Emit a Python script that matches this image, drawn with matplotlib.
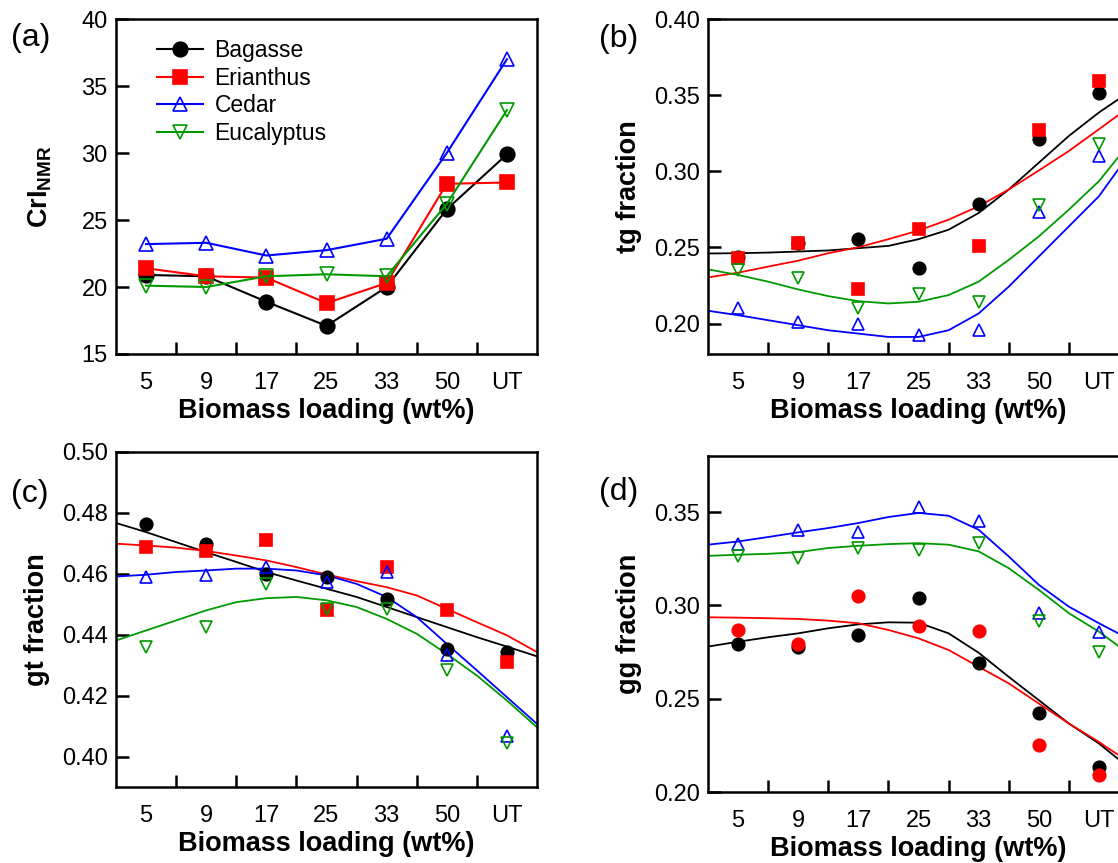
import numpy as np
import matplotlib
matplotlib.use('Agg')
import matplotlib.pyplot as plt

plt.rcParams['font.family'] = ['Liberation Sans', 'DejaVu Sans']
plt.rcParams['mathtext.fontset'] = 'custom'
plt.rcParams['mathtext.rm'] = 'Liberation Sans'
plt.rcParams['mathtext.bf'] = 'Liberation Sans:bold'

# x categories (biomass loading)
loading = ['5', '9', '17', '25', '33', '50', 'UT']
names = ['Bagasse', 'Erianthus', 'Cedar', 'Eucalyptus']

# (a) CrI_NMR
cri_bagasse = [20.9, 20.8, 18.9, 17.1, 20.0, 25.8, 29.9]
cri_erianthus = [21.4, 20.8, 20.7, 18.8, 20.3, 27.7, 27.8]
cri_cedar = [23.2, 23.3, 22.35, 22.75, 23.6, 30.0, 37.0]
cri_eucalyptus = [20.1, 20.0, 20.8, 20.95, 20.8, 26.2, 33.2]

# (b) tg fraction
tg_bagasse = [0.244, 0.253, 0.2554, 0.2367, 0.2787, 0.3214, 0.3517]
tg_erianthus = [0.2429, 0.2528, 0.2224, 0.262, 0.2506, 0.3269, 0.3594]
tg_cedar = [0.2099, 0.201, 0.200, 0.1923, 0.196, 0.2732, 0.310]
tg_eucalyptus = [0.2352, 0.2297, 0.2099, 0.2194, 0.2143, 0.2776, 0.3177]

# (c) gt fraction
gt_bagasse = [0.4765, 0.4699, 0.4598, 0.4589, 0.4518, 0.4354, 0.4343]
gt_erianthus = [0.4688, 0.4675, 0.471, 0.4482, 0.4624, 0.448, 0.431]
gt_cedar = [0.4589, 0.4595, 0.4622, 0.4573, 0.4606, 0.4332, 0.4069]
gt_eucalyptus = [0.4359, 0.4425, 0.4565, 0.4485, 0.4483, 0.4283, 0.4044]

# (d) gg fraction
gg_bagasse = [0.2791, 0.2775, 0.2841, 0.3038, 0.2689, 0.2424, 0.2134]
gg_erianthus = [0.2868, 0.2793, 0.3052, 0.289, 0.2863, 0.2254, 0.2093]
gg_cedar = [0.3328, 0.3405, 0.3391, 0.3527, 0.345, 0.2958, 0.2859]
gg_eucalyptus = [0.3262, 0.3253, 0.3307, 0.3294, 0.3333, 0.2918, 0.2752]

fit_x = [-0.5, 0, 0.5, 1, 1.5, 2, 2.5, 3, 3.5, 4, 4.5, 5, 5.5, 6, 6.5]

tg_fit_bagasse = [0.2460, 0.2462, 0.2466, 0.2473, 0.2480, 0.2495, 0.2510, 0.2554,
                  0.2616, 0.2726, 0.2880, 0.3056, 0.3232, 0.3386, 0.3520]
tg_fit_erianthus = [0.2303, 0.2334, 0.2374, 0.2413, 0.2462, 0.2501, 0.2554, 0.2611,
                    0.2682, 0.2770, 0.2880, 0.3005, 0.3133, 0.3276, 0.3420]
tg_fit_cedar = [0.2084, 0.2055, 0.2022, 0.1989, 0.1956, 0.1934, 0.1912, 0.1912,
                0.1956, 0.2066, 0.2242, 0.2440, 0.2638, 0.2836, 0.3110]
tg_fit_eucalyptus = [0.2356, 0.2319, 0.2275, 0.2224, 0.2180, 0.2147, 0.2132, 0.2143,
                     0.2187, 0.2275, 0.2418, 0.2572, 0.2748, 0.2935, 0.3180]

gt_fit_bagasse = [0.4767, 0.4737, 0.4704, 0.4671, 0.4639, 0.4606, 0.4578, 0.4551,
                  0.4524, 0.4491, 0.4458, 0.4425, 0.4392, 0.4361, 0.4329]
gt_fit_erianthus = [0.4699, 0.4693, 0.4686, 0.4675, 0.4660, 0.4644, 0.4622, 0.4598,
                    0.4576, 0.4556, 0.4529, 0.4485, 0.4441, 0.4398, 0.4343]
gt_fit_cedar = [0.4591, 0.4597, 0.4606, 0.4611, 0.4617, 0.4617, 0.4611, 0.4595,
                0.4567, 0.4524, 0.4458, 0.4370, 0.4283, 0.4195, 0.4107]
gt_fit_eucalyptus = [0.4381, 0.4414, 0.4447, 0.4480, 0.4507, 0.4520, 0.4524, 0.4513,
                     0.4491, 0.4452, 0.4403, 0.4337, 0.4266, 0.4184, 0.4096]

gg_fit_bagasse = [0.2779, 0.2805, 0.2829, 0.2850, 0.2877, 0.2898, 0.2909, 0.2907,
                  0.2850, 0.2746, 0.2617, 0.2492, 0.2367, 0.2260, 0.2130]
gg_fit_erianthus = [0.2936, 0.2934, 0.2931, 0.2927, 0.2918, 0.2904, 0.2868, 0.2823,
                    0.2761, 0.2671, 0.2582, 0.2474, 0.2367, 0.2268, 0.2160]
gg_fit_cedar = [0.3325, 0.3342, 0.3366, 0.3391, 0.3414, 0.3441, 0.3473, 0.3495,
                0.3480, 0.3405, 0.3262, 0.3110, 0.2993, 0.2904, 0.2820]
gg_fit_eucalyptus = [0.3265, 0.3271, 0.3276, 0.3285, 0.3307, 0.3319, 0.3328, 0.3333,
                     0.3325, 0.3289, 0.3199, 0.3083, 0.2958, 0.2859, 0.2740]

green = '#009a00'
colors = ['black', 'red', 'blue', green]

W, H = 1118, 863
fig = plt.figure(figsize=(W / 100, H / 100), dpi=100)


def px_axes(left, top, right, bottom):
    # axes from pixel box of the picture
    return fig.add_axes([left / W, (H - bottom) / H, (right - left) / W, (bottom - top) / H])


ax_a = px_axes(116, 19, 537, 354)
ax_b = px_axes(708, 19, 1129, 354)
ax_c = px_axes(116, 452, 537, 787)
ax_d = px_axes(708, 456, 1129, 792)

x = np.arange(len(loading))


def style_axes(ax, ylim, yticks, yfmt, ylabel):
    ax.set_xlim(-0.5, 6.5)
    ax.set_ylim(*ylim)
    ax.set_xticks(x)
    ax.set_xticklabels(loading)
    ax.set_xticks(np.arange(0.5, 6, 1), minor=True)
    ax.tick_params(axis='x', which='major', length=0, pad=13, labelsize=17)
    ax.tick_params(axis='x', which='minor', direction='in', length=9, width=1.8)
    ax.set_yticks(yticks)
    ax.set_yticklabels([yfmt % v for v in yticks])
    ax.tick_params(axis='y', direction='in', length=9, width=1.8, pad=6, labelsize=17)
    for s in ax.spines.values():
        s.set_linewidth(1.8)
    ax.set_xlabel('Biomass loading (wt%)', fontsize=19.5, fontweight='bold')
    ax.xaxis.set_label_coords(0.5, -0.13)
    ax.set_ylabel(ylabel, fontsize=19.5, fontweight='bold')
    ax.yaxis.set_label_coords(-0.157, 0.5)


# ---- (a) ----
cri = [cri_bagasse, cri_erianthus, cri_cedar, cri_eucalyptus]
marks = ['o', 's', '^', 'v']
for i in range(4):
    face = colors[i] if i < 2 else 'none'
    ax_a.plot(x, cri[i], color=colors[i], marker=marks[i], markersize=10.5,
              markerfacecolor=face, markeredgecolor=colors[i], markeredgewidth=1.2,
              linewidth=1.5, label=names[i])
style_axes(ax_a, (15, 40), [15, 20, 25, 30, 35, 40], '%d', r'$\mathbf{CrI}_{\mathbf{NMR}}$')
ax_a.yaxis.set_label_coords(-0.148, 0.5)
ax_a.legend(loc='upper left', bbox_to_anchor=(0.098, 0.94), frameon=False, fontsize=16.5,
            borderpad=0, borderaxespad=0, handlelength=2.0, handletextpad=0.5,
            labelspacing=0.2)


def fit_panel(ax, pts, fits, red_mark):
    mk = ['o', red_mark, '^', 'v']
    for i in range(4):
        ax.plot(fit_x, fits[i], color=colors[i], linewidth=1.3)
    for i in range(4):
        face = colors[i] if i < 2 else 'none'
        ax.plot(x, pts[i], linestyle='none', marker=mk[i], markersize=9,
                markerfacecolor=face, markeredgecolor=colors[i], markeredgewidth=1.2)


# ---- (b) ----
fit_panel(ax_b, [tg_bagasse, tg_erianthus, tg_cedar, tg_eucalyptus],
          [tg_fit_bagasse, tg_fit_erianthus, tg_fit_cedar, tg_fit_eucalyptus], 's')
style_axes(ax_b, (0.18, 0.40), [0.20, 0.25, 0.30, 0.35, 0.40], '%.2f', 'tg fraction')

# ---- (c) ----
fit_panel(ax_c, [gt_bagasse, gt_erianthus, gt_cedar, gt_eucalyptus],
          [gt_fit_bagasse, gt_fit_erianthus, gt_fit_cedar, gt_fit_eucalyptus], 's')
style_axes(ax_c, (0.39, 0.50), [0.40, 0.42, 0.44, 0.46, 0.48, 0.50], '%.2f', 'gt fraction')

# ---- (d) ----
fit_panel(ax_d, [gg_bagasse, gg_erianthus, gg_cedar, gg_eucalyptus],
          [gg_fit_bagasse, gg_fit_erianthus, gg_fit_cedar, gg_fit_eucalyptus], 'o')
style_axes(ax_d, (0.20, 0.38), [0.20, 0.25, 0.30, 0.35], '%.2f', 'gg fraction')

# panel letters
for lab, px, py in [('(a)', 11, 38), ('(b)', 599, 39), ('(c)', 11, 494), ('(d)', 599, 492)]:
    fig.text(px / W, (H - py) / H, lab, fontsize=23, ha='left', va='center')

fig.savefig('out.png', dpi=100)
